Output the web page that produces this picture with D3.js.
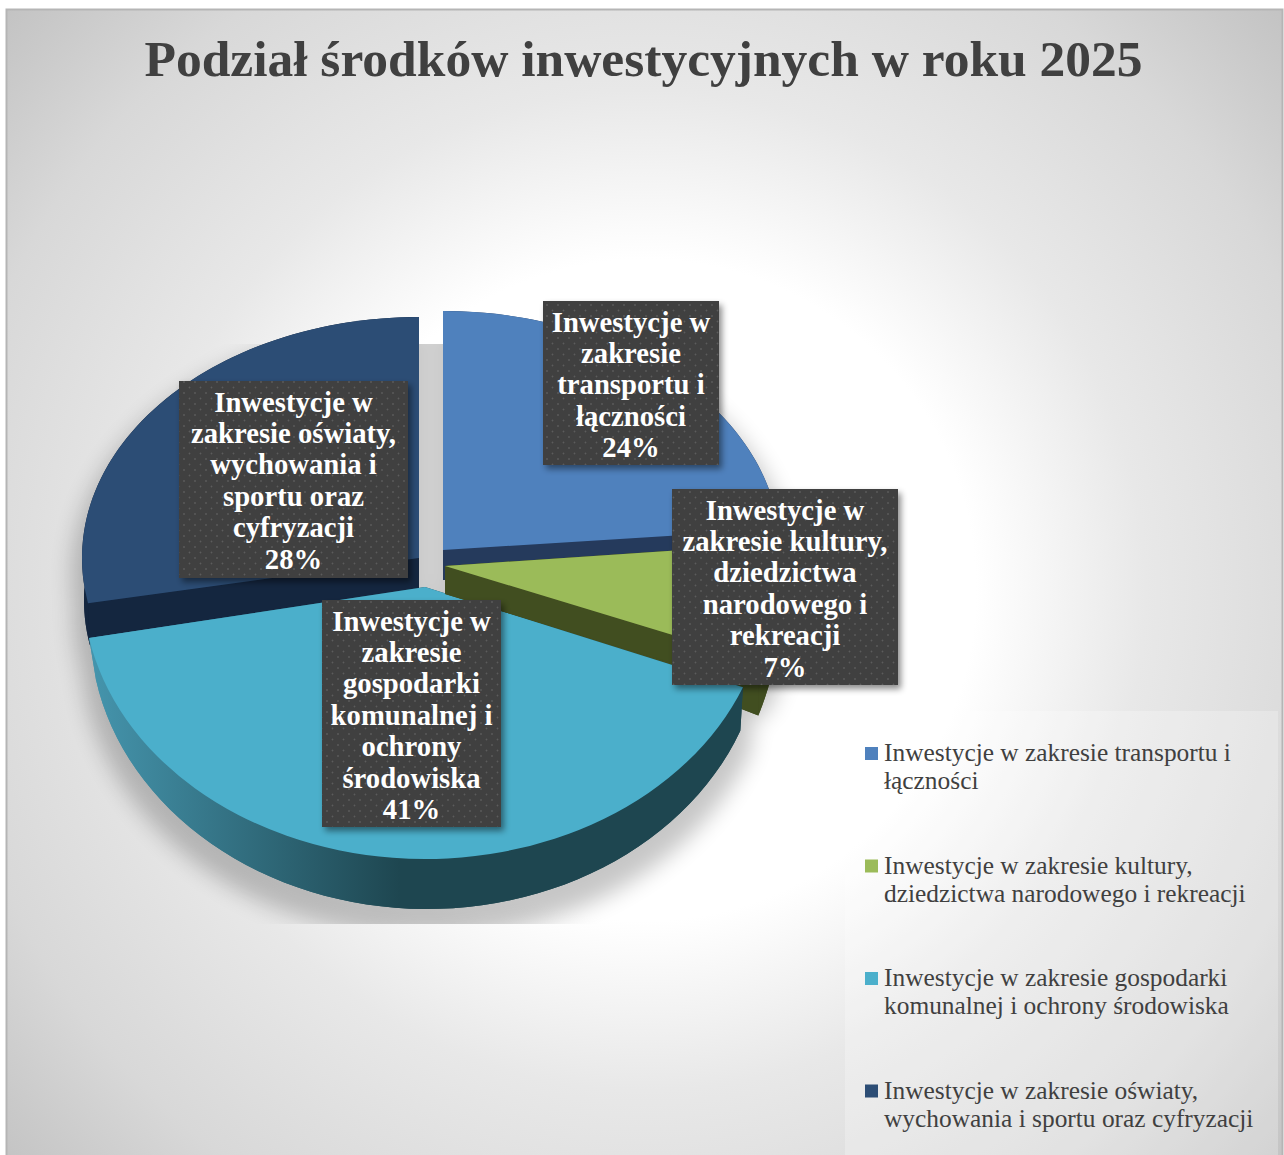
<!DOCTYPE html>
<html>
<head>
<meta charset="utf-8">
<style>
  html, body { margin: 0; padding: 0; background: #fff; }
  svg { display: block; }
</style>
<script src="https://cdn.jsdelivr.net/npm/d3@7"></script>
</head>
<body>
<div id="chart"></div>
<script>
const title = "Podział środków inwestycyjnych w roku 2025";
const categories = ["transport", "kultura", "gospodarka", "oswiata"];
const shares = [23.6, 7.4, 41, 28];
const labelLines = [
  ["Inwestycje w", "zakresie", "transportu i", "łączności"],
  ["Inwestycje w", "zakresie kultury,", "dziedzictwa", "narodowego i", "rekreacji"],
  ["Inwestycje w", "zakresie", "gospodarki", "komunalnej i", "ochrony", "środowiska"],
  ["Inwestycje w", "zakresie oświaty,", "wychowania i", "sportu oraz", "cyfryzacji"]
];
const legendLines = [
  ["Inwestycje w zakresie transportu i", "łączności"],
  ["Inwestycje w zakresie kultury,", "dziedzictwa narodowego i rekreacji"],
  ["Inwestycje w zakresie gospodarki", "komunalnej i ochrony środowiska"],
  ["Inwestycje w zakresie oświaty,", "wychowania i sportu oraz cyfryzacji"]
];
const topColors = ["#4f81bd", "#9bbb59", "#4bafcb", "#2c4d75"];
const wallColors = ["#253a5c", "#414e20", "url(#tealWall)", "#14263f"];

// exploded perspective pie: each slice has its own top and bottom ellipse
const topFace = [
  { cx: 443, cy: 550, rx: 337, ry: 239 },
  { cx: 445, cy: 566, rx: 337, ry: 258 },
  { cx: 425, cy: 587, rx: 342, ry: 272 },
  { cx: 419, cy: 558, rx: 337, ry: 241 }
];
const bottomFace = [
  { cx: 443, cy: 580, rx: 337, ry: 239 },
  { cx: 445, cy: 594, rx: 337, ry: 258 },
  { cx: 427, cy: 627, rx: 337, ry: 282 },
  { cx: 419, cy: 600, rx: 335, ry: 241 }
];
const greenBackFace = { cx: 445, cy: 594, rx: 337, ry: 330 };

const labelBoxes = [
  { x: 543, y: 301, w: 176, h: 164 },
  { x: 672, y: 489, w: 226, h: 196 },
  { x: 322, y: 600, w: 179, h: 227 },
  { x: 179, y: 381, w: 229, h: 197 }
];

const width = 1284;
const height = 1155;
const serif = "'Liberation Serif', 'DejaVu Serif', serif";

const svg = d3.select("#chart").append("svg")
  .attr("width", width)
  .attr("height", height);

const defs = svg.append("defs");

const bg = defs.append("radialGradient")
  .attr("id", "panelBg")
  .attr("gradientUnits", "userSpaceOnUse")
  .attr("cx", 645).attr("cy", 590).attr("r", 870);
[[0.38, "#ffffff"], [0.575, "#e8e8e8"], [0.81, "#d8d8d8"], [0.93, "#cacaca"], [1, "#c2c2c2"]]
  .forEach(d => bg.append("stop").attr("offset", d[0]).attr("stop-color", d[1]));

const tealGrad = defs.append("linearGradient")
  .attr("id", "tealWall")
  .attr("gradientUnits", "userSpaceOnUse")
  .attr("x1", 90).attr("x2", 400).attr("y1", 0).attr("y2", 0);
tealGrad.append("stop").attr("offset", "0").attr("stop-color", "#4595ad");
tealGrad.append("stop").attr("offset", "1").attr("stop-color", "#1e4650");

const dots = defs.append("pattern")
  .attr("id", "labelDots")
  .attr("patternUnits", "userSpaceOnUse")
  .attr("width", 11).attr("height", 11);
dots.append("rect").attr("width", 11).attr("height", 11).attr("fill", "#3f3f3f");
dots.selectAll("circle").data([[2.5, 2.5], [8, 8]]).join("circle")
  .attr("cx", d => d[0]).attr("cy", d => d[1]).attr("r", 0.9).attr("fill", "#5c5c5c");

defs.append("filter").attr("id", "pieBlur")
  .attr("x", "-20%").attr("y", "-20%").attr("width", "140%").attr("height", "140%")
  .append("feGaussianBlur").attr("stdDeviation", 11);

const boxShadow = defs.append("filter").attr("id", "boxShadow")
  .attr("x", "-10%").attr("y", "-10%").attr("width", "125%").attr("height", "125%");
boxShadow.append("feDropShadow")
  .attr("dx", 3).attr("dy", 4).attr("stdDeviation", 3)
  .attr("flood-color", "#000").attr("flood-opacity", 0.45);

defs.append("clipPath").attr("id", "shadowClip")
  .append("rect").attr("x", 47).attr("y", 344).attr("width", 768).attr("height", 580);

// panel
svg.append("rect")
  .attr("x", 6.5).attr("y", 9.5)
  .attr("width", 1276).attr("height", 1150)
  .attr("fill", "url(#panelBg)")
  .attr("stroke", "#b5b5b5")
  .attr("stroke-width", 2);

// title
svg.append("text")
  .attr("x", 643.5).attr("y", 76)
  .attr("text-anchor", "middle")
  .attr("font-family", serif)
  .attr("font-weight", "bold")
  .attr("font-size", 51.5)
  .attr("fill", "#404040")
  .text(title);

// pie layout
const pie = d3.pie().sort(null).value(d => d)(shares);
const arc = d3.arc().innerRadius(0);
const line = d3.line();
const project = (a, f) => [f.cx + f.rx * Math.sin(a), f.cy - f.ry * Math.cos(a)];
const sweep = (s, f) => d3.range(61).map(i =>
  project(s.startAngle + (s.endAngle - s.startAngle) * i / 60, f));

function wallParts(s, top, bottom) {
  const t = sweep(s, top);
  const b = sweep(s, bottom);
  const ta = [top.cx, top.cy];
  const ba = [bottom.cx, bottom.cy];
  return [
    [ba, ...b],
    [...t, ...b.slice().reverse()],
    [ta, t[0], b[0], ba],
    [ta, t[60], b[60], ba]
  ];
}

function drawWall(parent, s, top, bottom, fill) {
  parent.append("g").attr("fill", fill)
    .selectAll("path")
    .data(wallParts(s, top, bottom))
    .join("path")
    .attr("d", d => line(d) + "Z");
}

function drawTop(parent, s, f, fill) {
  parent.append("path")
    .attr("transform", `translate(${f.cx},${f.cy}) scale(1,${f.ry / f.rx})`)
    .attr("d", arc.outerRadius(f.rx)(s))
    .attr("fill", fill);
}

// shadow under the pie, cut off by its own box like in the original
const shadow = svg.append("g")
  .attr("clip-path", "url(#shadowClip)")
  .append("g")
  .attr("filter", "url(#pieBlur)")
  .attr("opacity", 0.22)
  .attr("transform", "translate(0,18)");
pie.forEach((s, i) => {
  shadow.append("g")
    .attr("stroke", "#000").attr("stroke-width", 20).attr("stroke-linejoin", "round")
    .selectAll("path")
    .data(wallParts(s, topFace[i], bottomFace[i]))
    .join("path")
    .attr("d", d => line(d) + "Z")
    .attr("fill", "#000");
});

// slices back to front
const pieG = svg.append("g");
[3, 0].forEach(i => {
  drawWall(pieG, pie[i], topFace[i], bottomFace[i], wallColors[i]);
  drawTop(pieG, pie[i], topFace[i], topColors[i]);
});
drawWall(pieG, pie[1], topFace[1], greenBackFace, wallColors[1]);
drawWall(pieG, pie[2], topFace[2], bottomFace[2], wallColors[2]);
drawTop(pieG, pie[2], topFace[2], topColors[2]);
drawWall(pieG, pie[1], topFace[1], bottomFace[1], wallColors[1]);
drawTop(pieG, pie[1], topFace[1], topColors[1]);

// data labels
const labelLeading = 31.4;
const labels = svg.append("g")
  .selectAll("g")
  .data(categories)
  .join("g");

labels.append("rect")
  .attr("x", (d, i) => labelBoxes[i].x)
  .attr("y", (d, i) => labelBoxes[i].y)
  .attr("width", (d, i) => labelBoxes[i].w)
  .attr("height", (d, i) => labelBoxes[i].h)
  .attr("fill", "url(#labelDots)")
  .attr("filter", "url(#boxShadow)");

labels.each(function (d, i) {
  const box = labelBoxes[i];
  const rows = [...labelLines[i], `${Math.round(shares[i])}%`];
  d3.select(this).selectAll("text")
    .data(rows)
    .join("text")
    .attr("x", box.x + box.w / 2)
    .attr("y", (r, j) => box.y + 30.5 + j * labelLeading)
    .attr("text-anchor", "middle")
    .attr("font-family", serif)
    .attr("font-weight", "bold")
    .attr("font-size", 28.7)
    .attr("fill", "#fff")
    .text(r => r);
});

// legend
svg.append("rect")
  .attr("x", 845).attr("y", 711)
  .attr("width", 433).attr("height", 444)
  .attr("fill", "#fff").attr("fill-opacity", 0.25);

const legendY = d3.scaleLinear().domain([0, 3]).range([747, 1084.5]);
const legend = svg.append("g")
  .selectAll("g")
  .data(categories)
  .join("g")
  .attr("transform", (d, i) => `translate(865,${legendY(i)})`);

legend.append("rect")
  .attr("width", 13).attr("height", 13)
  .attr("fill", (d, i) => topColors[i]);

legend.selectAll("text")
  .data((d, i) => legendLines[i])
  .join("text")
  .attr("x", 19)
  .attr("y", (d, j) => 14 + j * 28)
  .attr("font-family", serif)
  .attr("font-size", 25.4)
  .attr("fill", "#404040")
  .text(d => d);
</script>
</body>
</html>
